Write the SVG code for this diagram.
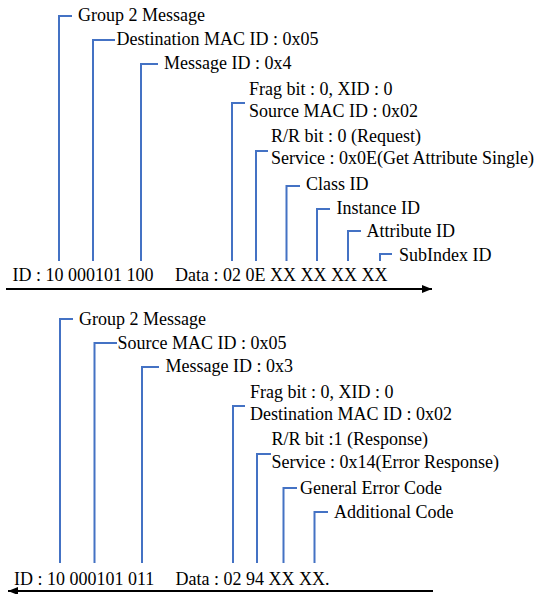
<svg xmlns="http://www.w3.org/2000/svg" width="542" height="594" viewBox="0 0 542 594">
<defs>
<marker id="ah" viewBox="0 0 10 8" refX="10" refY="4" markerWidth="10" markerHeight="8" markerUnits="userSpaceOnUse" orient="auto">
<path d="M0,0 L10,4 L0,8 Z" fill="#000"/>
</marker>
<style>
text{font-family:"Liberation Serif","Times New Roman",serif;font-size:18px;fill:#000}
.b{fill:none;stroke:#4472C4;stroke-width:2}
.ax{fill:none;stroke:#000;stroke-width:2}
</style>
</defs>
<rect width="542" height="594" fill="#fff"/>
<g id="connectors">
<path class="b" d="M59,261 V16 H72"/>
<path class="b" d="M93,261 V40 H115"/>
<path class="b" d="M141,261 V64 H158"/>
<path class="b" d="M232,261 V103 H245"/>
<path class="b" d="M256,261 V151 H268"/>
<path class="b" d="M286.5,261 V186 H300"/>
<path class="b" d="M317,261 V209 H330"/>
<path class="b" d="M348,261 V231 H361"/>
<path class="b" d="M380,261 V254 H392"/>
<path class="ax" d="M6,289 H432" marker-end="url(#ah)"/>
<path class="b" d="M60,563 V319 H73"/>
<path class="b" d="M94.5,563 V343 H117"/>
<path class="b" d="M142,563 V367 H159"/>
<path class="b" d="M233,563 V406 H245"/>
<path class="b" d="M257,563 V454 H271"/>
<path class="b" d="M283.5,563 V488 H297"/>
<path class="b" d="M314.5,563 V512 H328"/>
<path class="ax" d="M433,591 H8" marker-end="url(#ah)"/>
</g>
<g id="top-labels">
<text x="78" y="21">Group 2 Message</text>
<text x="116.5" y="45">Destination MAC ID : 0x05</text>
<text x="164" y="69">Message ID : 0x4</text>
<text x="249" y="95">Frag bit : 0, XID : 0</text>
<text x="249" y="117">Source MAC ID : 0x02</text>
<text x="271" y="142">R/R bit : 0 (Request)</text>
<text x="271" y="164">Service : 0x0E(Get Attribute Single)</text>
<text x="306" y="190">Class ID</text>
<text x="336.5" y="214">Instance ID</text>
<text x="366.5" y="237">Attribute ID</text>
<text x="399" y="261">SubIndex ID</text>
<text x="12.5" y="281">ID : 10 000101 100</text>
<text x="175" y="281">Data : 02 0E XX XX XX XX</text>
</g>
<g id="bottom-labels">
<text x="79" y="325">Group 2 Message</text>
<text x="117.5" y="349">Source MAC ID : 0x05</text>
<text x="165.5" y="372">Message ID : 0x3</text>
<text x="250" y="398">Frag bit : 0, XID : 0</text>
<text x="250" y="420">Destination MAC ID : 0x02</text>
<text x="271.5" y="445">R/R bit :1 (Response)</text>
<text x="271.5" y="468">Service : 0x14(Error Response)</text>
<text x="300" y="494">General Error Code</text>
<text x="334" y="518">Additional Code</text>
<text x="14" y="584.5">ID : 10 000101 011</text>
<text x="175.5" y="584.5">Data : 02 94 XX XX.</text>
</g>
</svg>
